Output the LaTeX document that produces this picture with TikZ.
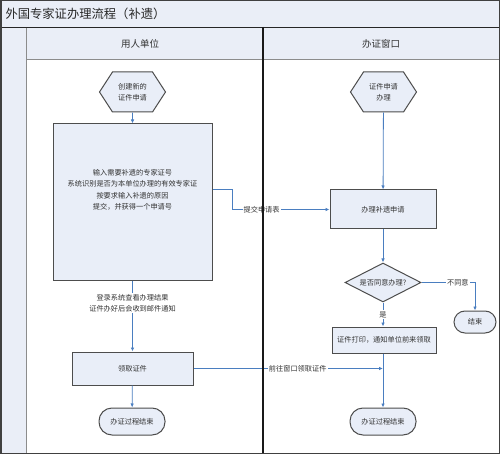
\documentclass[tikz,border=0pt]{standalone}
\usepackage{fontspec}
\setmainfont{Noto Sans CJK SC}
\usetikzlibrary{shapes.symbols,shapes.geometric,arrows.meta}
\definecolor{nfill}{HTML}{E9EEF8}
\definecolor{lanefill}{HTML}{EAEEF7}
\definecolor{edgec}{HTML}{4A7EC0}
\definecolor{bord}{HTML}{4D4D4D}
\definecolor{txt}{HTML}{333333}
\begin{document}
\begin{tikzpicture}[x=1pt,y=-1pt,
  base/.style={draw=bord, line width=1pt, fill=nfill, text=txt, font=\fontsize{7.2}{11}\selectfont, inner sep=1pt, align=center},
  proc/.style={base, rectangle},
  hexa/.style={base, signal, signal to=east and west, signal pointer angle=114, minimum width=66pt, minimum height=40pt},
  term/.style={base, rectangle, rounded corners=13pt, minimum width=66pt, minimum height=27pt},
  dec/.style={base, diamond, aspect=1.95, inner sep=0pt, minimum width=76pt, minimum height=39pt},
  conn/.style={draw=edgec, line width=0.8pt, -{Latex[length=4pt,width=3.5pt]}},
  plain/.style={draw=edgec, line width=0.8pt},
  lbl/.style={fill=white, text=txt, font=\fontsize{7.2}{11.5}\selectfont, inner sep=1pt, align=center},
  hdr/.style={text=txt, font=\fontsize{9.5}{11}\selectfont}]
\useasboundingbox (0,0) rectangle (500,454);
\fill[white] (0,0) rectangle (500,454);
% title bar and headers
\fill[lanefill] (0,0) rectangle (500,27);
\fill[lanefill] (1,27) rectangle (26,453);
\fill[lanefill] (27,28) rectangle (500,59);
\draw[line width=1.5pt, black!85] (0,27.5) -- (500,27.5);
\draw[line width=1.5pt, black!45] (27,59.5) -- (499,59.5);
\draw[line width=1.5pt, black!45] (26.5,28) -- (26.5,453);
\node[anchor=west, text=black!85, font=\fontsize{12.3}{14}\selectfont] (title) at (2,14) {外国专家证办理流程（补遗）};
\node[hdr] (h1) at (140,44) {用人单位};
\node[hdr] (h2) at (381,44) {办证窗口};
% nodes
\node[hexa] (start1) at (132.5,92) {创建新的\\证件申请};
\node[proc, minimum width=159pt, minimum height=156pt] (big) at (132.5,202) {};
\node[text=txt, font=\fontsize{7.2}{11.5}\selectfont, align=center] (bigtext) at (132.5,190) {输入需要补遗的专家证号\\系统识别是否为本单位办理的有效专家证\\按要求输入补遗的原因\\提交，并获得一个申请号};
\node[proc, minimum width=121pt, minimum height=33pt] (fetch) at (132.5,368.5) {领取证件};
\node[term] (end1) at (132,421.5) {办证过程结束};
\node[hexa] (start2) at (383.5,92) {证件申请\\办理};
\node[proc, minimum width=106pt, minimum height=39pt] (apply) at (383,209.5) {办理补遗申请};
\node[dec] (dia) at (383,282.5) {是否同意办理?};
\node[term, minimum width=42pt, minimum height=22pt, rounded corners=11pt] (stop) at (475,322) {结束};
\node[proc, minimum width=104pt, minimum height=26pt] (print) at (384,340) {证件打印，通知单位前来领取};
\node[term] (end2) at (383,421.5) {办证过程结束};
% connectors
\draw[conn] (start1) -- (big);
\draw[conn] ([yshift=13pt]big.east) -- ++(20,0) |- node[lbl, pos=0.65] {提交申请表} (apply.west);
\draw[conn] (big) -- node[lbl, pos=0.32] {登录系统查看办理结果\\证件办好后会收到邮件通知} (fetch);
\draw[conn] (fetch) -- (end1);
\draw[conn] (start2) -- (apply);
\draw[conn] (apply) -- (dia);
\draw[conn] (dia.east) -| node[lbl, pos=0.34] {不同意} (stop.north);
\draw[conn] (dia.south) -- node[lbl] {是} (print.north -| dia.south);
\draw[conn] (print.south -| end2.north) -- (end2.north);
\draw[conn] (fetch.east) -- node[lbl, pos=0.55] {前往窗口领取证件} (fetch.east -| end2.north);
% lane divider and border
\draw[line width=1.2pt, black!90] (263,27) -- (263,454);
\draw[line width=1.5pt, black!75] (0.75,0.75) rectangle (499.25,453.25);
\end{tikzpicture}
\end{document}
